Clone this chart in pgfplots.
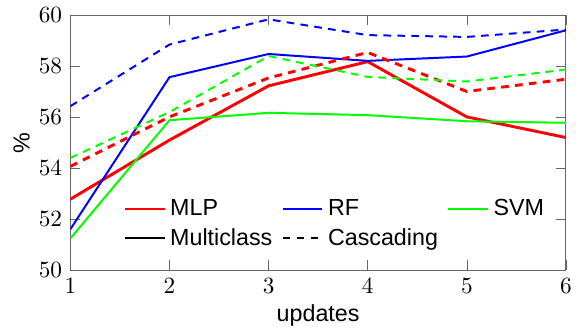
\documentclass[border=0pt]{standalone}
\usepackage{fontspec}
\setmainfont{Liberation Sans}
\usepackage{pgfplots}
\pgfplotsset{compat=1.18}
\begin{document}
\begin{tikzpicture}
\begin{axis}[
  scale only axis,
  width=213pt, height=109.5pt,
  xmin=1, xmax=6, ymin=50, ymax=60,
  xtick={1,2,3,4,5,6}, ytick={50,52,54,56,58,60},
  axis line style={gray!80!black},
  tick style={gray!80!black},
  tick align=inside,
  xlabel={updates}, ylabel={\%},
  ylabel style={yshift=-3pt},
  xlabel style={yshift=2pt},
  legend columns=3,
  legend style={draw=none, fill=none, inner sep=0pt, outer sep=0pt,
    at={(0.108,0.066)}, anchor=south west,
    /tikz/every even column/.append style={column sep=2pt}},
  legend cell align=left,
]
\addlegendimage{red, line width=0.85pt}
\addlegendentry{MLP}
\addlegendimage{blue, line width=0.85pt}
\addlegendentry{RF}
\addlegendimage{green, line width=0.85pt}
\addlegendentry{SVM}
\addlegendimage{black, line width=0.85pt}
\addlegendentry{Multiclass}
\addlegendimage{black, line width=0.85pt, dash pattern=on 3pt off 3pt}
\addlegendentry{Cascading}
% Multiclass (solid)
\addplot[red, line width=1.25pt, forget plot] coordinates {(1,52.78) (2,55.1) (3,57.23) (4,58.18) (5,56.01) (6,55.2)};
\addplot[blue, line width=0.85pt, forget plot] coordinates {(1,51.6) (2,57.57) (3,58.48) (4,58.21) (5,58.38) (6,59.41)};
\addplot[green, line width=0.85pt, forget plot] coordinates {(1,51.24) (2,55.88) (3,56.17) (4,56.08) (5,55.84) (6,55.78)};
% Cascading (dashed)
\addplot[red, line width=1.25pt, dash pattern=on 3.3pt off 2.7pt, forget plot] coordinates {(1,54.07) (2,56.01) (3,57.54) (4,58.54) (5,57.01) (6,57.49)};
\addplot[blue, line width=0.85pt, dash pattern=on 3.3pt off 2.7pt, forget plot] coordinates {(1,56.43) (2,58.85) (3,59.84) (4,59.22) (5,59.15) (6,59.44)};
\addplot[green, line width=0.85pt, dash pattern=on 3.3pt off 2.7pt, forget plot] coordinates {(1,54.4) (2,56.2) (3,58.4) (4,57.58) (5,57.4) (6,57.87)};
\end{axis}
\path ([xshift=-2.5pt]current bounding box.west) ([xshift=1.5pt]current bounding box.east);
\end{tikzpicture}
\end{document}
